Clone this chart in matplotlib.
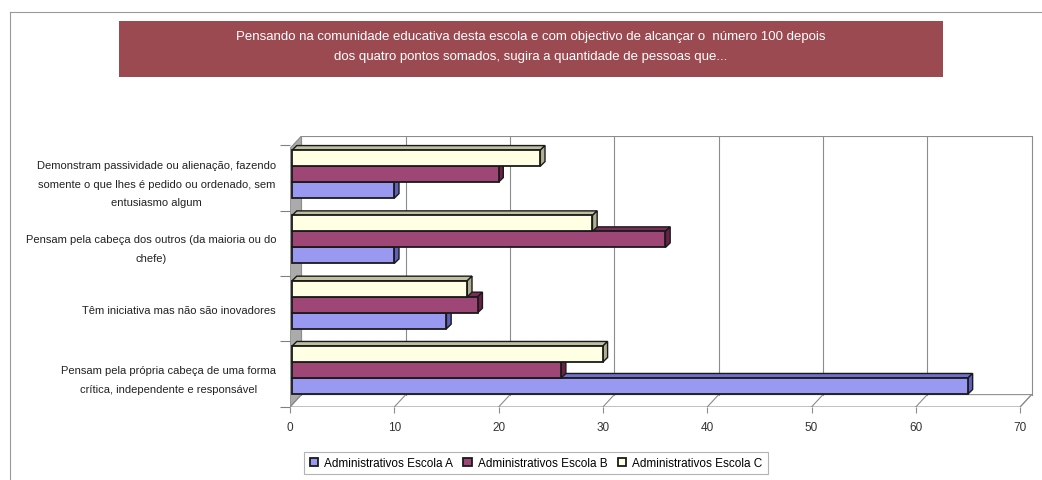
import matplotlib
matplotlib.use("Agg")
import matplotlib.pyplot as plt
from matplotlib.patches import Polygon, Rectangle, Patch
from matplotlib.lines import Line2D

plt.rcParams['font.family'] = ['Liberation Sans', 'DejaVu Sans']

# ---------------- data ----------------
categories = [
    "Pensam pela própria cabeça de uma forma\ncrítica, independente e responsável",
    "Têm iniciativa mas não são inovadores",
    "Pensam pela cabeça dos outros (da maioria ou do\nchefe)",
    "Demonstram passividade ou alienação, fazendo\nsomente o que lhes é pedido ou ordenado, sem\nentusiasmo algum",
]
escola_a = [65, 15, 10, 10]
escola_b = [26, 18, 36, 20]
escola_c = [30, 17, 29, 24]
series_names = ["Administrativos Escola A", "Administrativos Escola B", "Administrativos Escola C"]
x_ticks = [0, 10, 20, 30, 40, 50, 60, 70]
title = ("Pensando na comunidade educativa desta escola e com objectivo de alcançar o  número 100 depois\n"
         "dos quatro pontos somados, sugira a quantidade de pessoas que...")

# ---------------- styles ----------------
front_cols = ["#9999F2", "#9E4676", "#FFFFE4"]
top_cols = ["#7070C8", "#7A2E58", "#C0C0A0"]
side_cols = ["#6060B8", "#6A2248", "#B0B090"]
offsets = [-0.184, 0.061, 0.306]
bar_h = 0.245
px_per_unit = 10.43
bdx, bdy = 0.45, 0.07      # bar depth
wdx, wdy = 1.1, 0.19       # wall/floor depth
W, H = 1042, 481

fig = plt.figure(figsize=(W / 100, H / 100), dpi=100)
fig.patch.set_facecolor("white")

ax_l, ax_r, ax_t, ax_b = 290, 1035, 137, 408
ax = fig.add_axes([ax_l / W, 1 - ax_b / H, (ax_r - ax_l) / W, (ax_b - ax_t) / H])
xmax = (ax_r - ax_l) / px_per_unit
ax.set_xlim(0, xmax)
ylo, yhi = -0.505, 3.645
ax.set_ylim(ylo, yhi)
for s in ax.spines.values():
    s.set_visible(False)
ax.patch.set_alpha(0)

back_y0 = ylo + wdy
# left wall
ax.add_patch(Polygon([(0, ylo), (wdx, back_y0), (wdx, yhi), (0, yhi - wdy)],
                     closed=True, facecolor="#ABABAB", edgecolor="#8A8A8A", lw=0.8, zorder=1))
# floor
ax.add_patch(Polygon([(0, ylo), (x_ticks[-1], ylo), (x_ticks[-1] + wdx, back_y0), (wdx, back_y0)],
                     closed=True, facecolor="white", edgecolor="#909090", lw=0.8, zorder=1))
# back wall gridlines and floor lines
for k in x_ticks:
    ax.plot([k + wdx, k + wdx], [back_y0, yhi], color="#8C8C8C", lw=0.8, zorder=1)
    ax.plot([k, k + wdx], [ylo, back_y0], color="#8C8C8C", lw=0.8, zorder=1)
ax.plot([wdx, x_ticks[-1] + wdx], [yhi, yhi], color="#8C8C8C", lw=0.8, zorder=1)

# bars
for si, vals in enumerate([escola_a, escola_b, escola_c]):
    for ci, v in enumerate(vals):
        c = ci + offsets[si]
        y0, y1 = c - bar_h / 2, c + bar_h / 2
        z = 3 + si
        ax.add_patch(Polygon([(0.2, y1), (v, y1), (v + bdx, y1 + bdy), (0.2 + bdx, y1 + bdy)], closed=True,
                             facecolor=top_cols[si], edgecolor="#1a1a1a", lw=1.0, zorder=z))
        ax.add_patch(Polygon([(v, y0), (v + bdx, y0 + bdy), (v + bdx, y1 + bdy), (v, y1)], closed=True,
                             facecolor=side_cols[si], edgecolor="#1a1a1a", lw=1.0, zorder=z))
        ax.add_patch(Rectangle((0.2, y0), v - 0.2, bar_h, facecolor=front_cols[si],
                               edgecolor="#1a1a1a", lw=1.3, zorder=z + 0.5))

# ticks
ax.set_xticks(x_ticks)
ax.set_xticklabels([str(t) for t in x_ticks], fontsize=8.5, color="#333333")
ax.tick_params(axis="x", length=4, color="#8C8C8C", width=0.8, pad=6)
ax.set_yticks(range(len(categories)))
ax.set_yticklabels(categories, fontsize=8, color="#222222", linespacing=2.1)
for t in ax.get_yticklabels():
    t.set_multialignment("center")
ax.tick_params(axis="y", length=0, pad=10)
ax.set_yticks([i - 0.5 for i in range(len(categories) + 1)], minor=True)
ax.tick_params(axis="y", which="minor", length=7, color="#808080", width=0.8)

# title box
fig.add_artist(Rectangle((119 / W, 1 - 78 / H), (943 - 119) / W, (78 - 22) / H,
                         transform=fig.transFigure, facecolor="#9A4A50", edgecolor="none"))
fig.text((119 + 943) / 2 / W, 1 - 47 / H, title, color="white", ha="center", va="center",
         fontsize=9.5, linespacing=1.9)

# frame lines
fig.add_artist(Line2D([10 / W, 1], [1 - 13 / H, 1 - 13 / H], transform=fig.transFigure,
                      color="#9A9A9A", lw=0.8))
fig.add_artist(Line2D([10 / W, 10 / W], [1 - 13 / H, 0], transform=fig.transFigure,
                      color="#9A9A9A", lw=0.8))

# legend
handles = [Patch(facecolor=front_cols[i], edgecolor="#1a1a1a", lw=1.3) for i in range(3)]
leg = fig.legend(handles, series_names, loc="center", bbox_to_anchor=(536 / W, 1 - 464 / H),
                 ncol=3, fontsize=8.5, frameon=True, fancybox=False, handlelength=0.7,
                 handleheight=0.7, handletextpad=0.5, columnspacing=0.9, borderpad=0.45)
leg.get_frame().set_edgecolor("#A0A0A0")
leg.get_frame().set_linewidth(0.8)

fig.savefig("out.png", dpi=100)
